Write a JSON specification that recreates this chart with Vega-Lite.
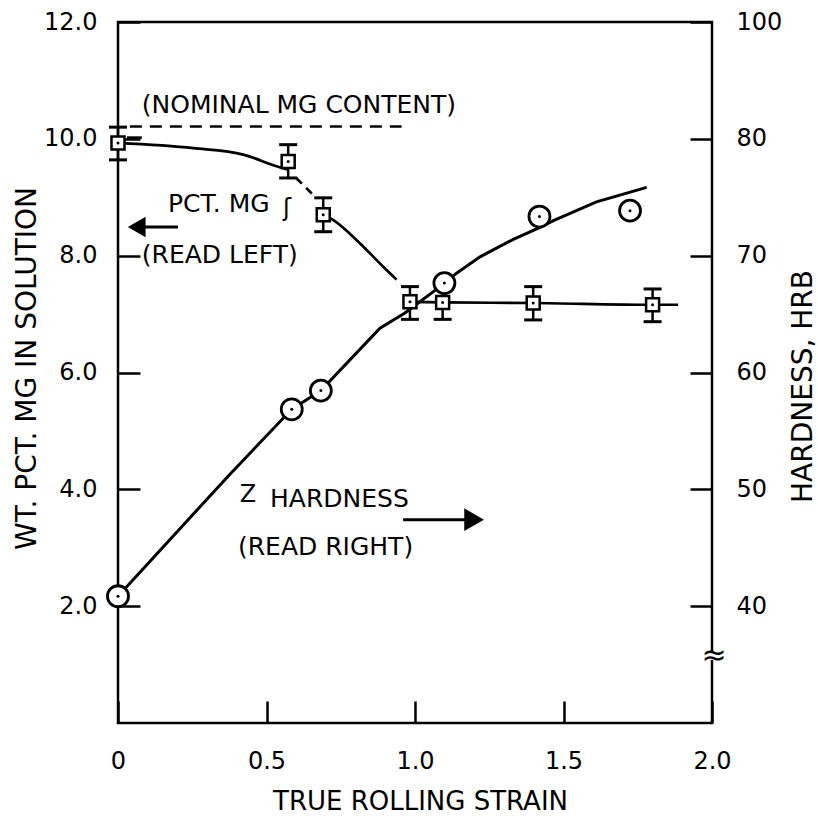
{
  "$schema": "https://vega.github.io/schema/vega-lite/v6.json",
  "width": 594,
  "height": 701,
  "autosize": {"type": "none"},
  "padding": {"left": 118, "top": 22, "right": 106, "bottom": 93},
  "background": "white",
  "config": {
    "view": {"stroke": "black", "strokeWidth": 2.5},
    "font": "DejaVu Sans",
    "axis": {
      "domain": false, "grid": false, "tickSize": 22, "tickWidth": 2.5, "tickColor": "black", "offset": -22,
      "labelFont": "DejaVu Sans", "labelFontSize": 24, "labelColor": "black",
      "titleFont": "DejaVu Sans", "titleFontSize": 28, "titleFontWeight": "normal", "titleColor": "black"
    }
  },
  "datasets": {
    "squares": [
      {"x": 0, "mg": 9.93, "lo": 9.64, "hi": 10.2},
      {"x": 0.573, "mg": 9.61, "lo": 9.33, "hi": 9.9},
      {"x": 0.691, "mg": 8.7, "lo": 8.41, "hi": 8.99},
      {"x": 0.983, "mg": 7.21, "lo": 6.91, "hi": 7.47},
      {"x": 1.093, "mg": 7.2, "lo": 6.91, "hi": 7.48},
      {"x": 1.398, "mg": 7.19, "lo": 6.9, "hi": 7.47},
      {"x": 1.8, "mg": 7.16, "lo": 6.87, "hi": 7.43}
    ],
    "mgcurve": [
      {"seg": "A", "x": 0, "mg": 9.93},
      {"seg": "A", "x": 0.254, "mg": 9.84},
      {"seg": "A", "x": 0.422, "mg": 9.73},
      {"seg": "A", "x": 0.534, "mg": 9.53},
      {"seg": "A", "x": 0.573, "mg": 9.47},
      {"seg": "E", "x": 0.03, "mg": 10.02},
      {"seg": "E", "x": 0.08, "mg": 10.02},
      {"seg": "C", "x": 0.691, "mg": 8.7},
      {"seg": "C", "x": 0.725, "mg": 8.61},
      {"seg": "C", "x": 0.815, "mg": 8.21},
      {"seg": "C", "x": 0.893, "mg": 7.81},
      {"seg": "C", "x": 0.938, "mg": 7.59},
      {"seg": "D", "x": 0.983, "mg": 7.21},
      {"seg": "D", "x": 1.093, "mg": 7.2},
      {"seg": "D", "x": 1.398, "mg": 7.19},
      {"seg": "D", "x": 1.8, "mg": 7.16},
      {"seg": "D", "x": 1.886, "mg": 7.16}
    ],
    "mgdash": [
      {"x": 0.6, "mg": 9.33},
      {"x": 0.655, "mg": 9.05}
    ],
    "nominal": [
      {"x": 0.04, "mg": 10.21},
      {"x": 0.955, "mg": 10.21}
    ],
    "hardline": [
      {"x": 0, "h": 40.85},
      {"x": 0.377, "h": 51.3},
      {"x": 0.585, "h": 56.85},
      {"x": 0.683, "h": 58.45},
      {"x": 0.882, "h": 63.8},
      {"x": 0.966, "h": 65.1},
      {"x": 1.1, "h": 67.65},
      {"x": 1.14, "h": 68.5},
      {"x": 1.219, "h": 69.9},
      {"x": 1.331, "h": 71.4},
      {"x": 1.419, "h": 72.4},
      {"x": 1.466, "h": 73.0},
      {"x": 1.611, "h": 74.6},
      {"x": 1.78, "h": 75.85}
    ],
    "circles": [
      {"x": 0, "h": 40.85},
      {"x": 0.585, "h": 56.85},
      {"x": 0.683, "h": 58.45},
      {"x": 1.099, "h": 67.65},
      {"x": 1.419, "h": 73.35},
      {"x": 1.724, "h": 73.85}
    ],
    "notes": [
      {"x": 0.08, "mg": 10.58, "label": "(NOMINAL MG CONTENT)"},
      {"x": 0.168, "mg": 8.88, "label": "PCT. MG"},
      {"x": 0.08, "mg": 8.01, "label": "(READ LEFT)"},
      {"x": 0.512, "mg": 3.84, "label": "HARDNESS"},
      {"x": 0.404, "mg": 3.01, "label": "(READ RIGHT)"}
    ],
    "squiggles": [
      {"x": 0.569, "mg": 8.8, "label": "ʃ"},
      {"x": 0.438, "mg": 3.9, "label": "Z"}
    ],
    "arrows": [
      {"x": 0.07, "x2": 0.202, "mg": 8.49},
      {"x": 0.96, "x2": 1.185, "mg": 3.48}
    ],
    "headL": [{"x": 0.063, "mg": 8.49}],
    "headR": [{"x": 1.199, "mg": 3.48}],
    "brk": [{"x": 1.99, "x2": 2.01, "h": 35.4, "h2": 36.0}],
    "brkmarks": [{"x": 2.0, "h": 35.7}]
  },
  "layer": [
    {
      "data": {"name": "notes"},
      "mark": {"type": "text", "align": "left", "baseline": "middle", "fontSize": 25, "font": "DejaVu Sans", "color": "black"},
      "encoding": {
        "x": {"field": "x", "type": "quantitative", "scale": {"domain": [0, 2]},
          "axis": {"values": [0, 0.5, 1, 1.5, 2], "labelExpr": "datum.value == 0 ? '0' : format(datum.value, '.1f')", "labelFlush": false, "labelPadding": 26, "title": "TRUE ROLLING STRAIN", "titleFontSize": 26, "titleX": 302, "titleY": 100, "titleBaseline": "middle", "titleAlign": "center"}},
        "y": {"field": "mg", "type": "quantitative", "scale": {"domain": [0, 12]},
          "axis": {"values": [2, 4, 6, 8, 10, 12], "format": ".1f", "labelPadding": 21, "title": "WT. PCT. MG IN SOLUTION", "titleX": -113, "titleY": 346, "titleAngle": 270, "titleBaseline": "middle", "titleAlign": "center"}},
        "text": {"field": "label"}
      }
    },
    {
      "data": {"name": "hardline"},
      "mark": {"type": "line", "color": "black", "strokeWidth": 3, "interpolate": "linear"},
      "encoding": {
        "x": {"field": "x", "type": "quantitative"},
        "y": {"field": "h", "type": "quantitative", "scale": {"domain": [30, 90]},
          "axis": {"orient": "right", "values": [40, 50, 60, 70, 80, 90], "labelExpr": "datum.value == 90 ? '100' : datum.label", "labelPadding": 24, "title": "HARDNESS, HRB", "titleX": 113, "titleY": 364, "titleAngle": 270, "titleBaseline": "middle", "titleAlign": "center"}}
      }
    },
    {
      "data": {"name": "squiggles"},
      "mark": {"type": "text", "align": "center", "baseline": "middle", "fontSize": 24, "font": "DejaVu Sans", "color": "black"},
      "encoding": {
        "x": {"field": "x", "type": "quantitative"},
        "y": {"field": "mg", "type": "quantitative", "scale": {"domain": [0, 12]}, "axis": null},
        "text": {"field": "label"}
      }
    },
    {
      "data": {"name": "arrows"},
      "mark": {"type": "rule", "color": "black", "strokeWidth": 3},
      "encoding": {
        "x": {"field": "x", "type": "quantitative"},
        "x2": {"field": "x2"},
        "y": {"field": "mg", "type": "quantitative", "scale": {"domain": [0, 12]}, "axis": null}
      }
    },
    {
      "data": {"name": "headL"},
      "mark": {"type": "point", "shape": "triangle-left", "filled": true, "color": "black", "size": 420, "opacity": 1},
      "encoding": {
        "x": {"field": "x", "type": "quantitative"},
        "y": {"field": "mg", "type": "quantitative", "scale": {"domain": [0, 12]}, "axis": null}
      }
    },
    {
      "data": {"name": "headR"},
      "mark": {"type": "point", "shape": "triangle-right", "filled": true, "color": "black", "size": 520, "opacity": 1},
      "encoding": {
        "x": {"field": "x", "type": "quantitative"},
        "y": {"field": "mg", "type": "quantitative", "scale": {"domain": [0, 12]}, "axis": null}
      }
    },
    {
      "data": {"name": "nominal"},
      "mark": {"type": "line", "color": "black", "strokeWidth": 2.5, "strokeDash": [12, 8]},
      "encoding": {
        "x": {"field": "x", "type": "quantitative"},
        "y": {"field": "mg", "type": "quantitative", "scale": {"domain": [0, 12]}, "axis": null}
      }
    },
    {
      "data": {"name": "mgcurve"},
      "mark": {"type": "line", "color": "black", "strokeWidth": 2.7, "interpolate": "monotone"},
      "encoding": {
        "x": {"field": "x", "type": "quantitative"},
        "y": {"field": "mg", "type": "quantitative", "scale": {"domain": [0, 12]}, "axis": null},
        "detail": {"field": "seg", "type": "nominal"}
      }
    },
    {
      "data": {"name": "mgdash"},
      "mark": {"type": "line", "color": "black", "strokeWidth": 2.7, "strokeDash": [8, 6]},
      "encoding": {
        "x": {"field": "x", "type": "quantitative"},
        "y": {"field": "mg", "type": "quantitative", "scale": {"domain": [0, 12]}, "axis": null}
      }
    },
    {
      "data": {"name": "squares"},
      "mark": {"type": "rule", "color": "black", "strokeWidth": 2.5},
      "encoding": {
        "x": {"field": "x", "type": "quantitative"},
        "y": {"field": "lo", "type": "quantitative", "scale": {"domain": [0, 12]}, "axis": null},
        "y2": {"field": "hi"}
      }
    },
    {
      "data": {"name": "squares"},
      "mark": {"type": "point", "shape": "M-1,0L1,0", "filled": false, "stroke": "black", "strokeWidth": 3, "size": 324, "opacity": 1},
      "encoding": {
        "x": {"field": "x", "type": "quantitative"},
        "y": {"field": "lo", "type": "quantitative", "scale": {"domain": [0, 12]}, "axis": null}
      }
    },
    {
      "data": {"name": "squares"},
      "mark": {"type": "point", "shape": "M-1,0L1,0", "filled": false, "stroke": "black", "strokeWidth": 3, "size": 324, "opacity": 1},
      "encoding": {
        "x": {"field": "x", "type": "quantitative"},
        "y": {"field": "hi", "type": "quantitative", "scale": {"domain": [0, 12]}, "axis": null}
      }
    },
    {
      "data": {"name": "squares"},
      "mark": {"type": "point", "shape": "square", "filled": true, "fill": "white", "stroke": "black", "strokeWidth": 2.5, "size": 169, "opacity": 1},
      "encoding": {
        "x": {"field": "x", "type": "quantitative"},
        "y": {"field": "mg", "type": "quantitative", "scale": {"domain": [0, 12]}, "axis": null}
      }
    },
    {
      "data": {"name": "squares"},
      "mark": {"type": "point", "shape": "circle", "filled": true, "color": "black", "size": 9, "opacity": 1},
      "encoding": {
        "x": {"field": "x", "type": "quantitative"},
        "y": {"field": "mg", "type": "quantitative", "scale": {"domain": [0, 12]}, "axis": null}
      }
    },
    {
      "data": {"name": "circles"},
      "mark": {"type": "point", "shape": "circle", "filled": true, "fill": "white", "stroke": "black", "strokeWidth": 2.8, "size": 441, "opacity": 1},
      "encoding": {
        "x": {"field": "x", "type": "quantitative"},
        "y": {"field": "h", "type": "quantitative", "scale": {"domain": [30, 90]}, "axis": null}
      }
    },
    {
      "data": {"name": "circles"},
      "mark": {"type": "point", "shape": "circle", "filled": true, "color": "black", "size": 9, "opacity": 1},
      "encoding": {
        "x": {"field": "x", "type": "quantitative"},
        "y": {"field": "h", "type": "quantitative", "scale": {"domain": [30, 90]}, "axis": null}
      }
    },
    {
      "data": {"name": "brk"},
      "mark": {"type": "rect", "color": "white", "opacity": 1},
      "encoding": {
        "x": {"field": "x", "type": "quantitative"},
        "x2": {"field": "x2"},
        "y": {"field": "h", "type": "quantitative", "scale": {"domain": [30, 90]}, "axis": null},
        "y2": {"field": "h2"}
      }
    },
    {
      "data": {"name": "brkmarks"},
      "mark": {"type": "text", "text": "≈", "align": "center", "baseline": "middle", "fontSize": 30, "dx": 2, "color": "black"},
      "encoding": {
        "x": {"field": "x", "type": "quantitative"},
        "y": {"field": "h", "type": "quantitative", "scale": {"domain": [30, 90]}, "axis": null}
      }
    }
  ],
  "resolve": {"scale": {"y": "independent"}}
}
